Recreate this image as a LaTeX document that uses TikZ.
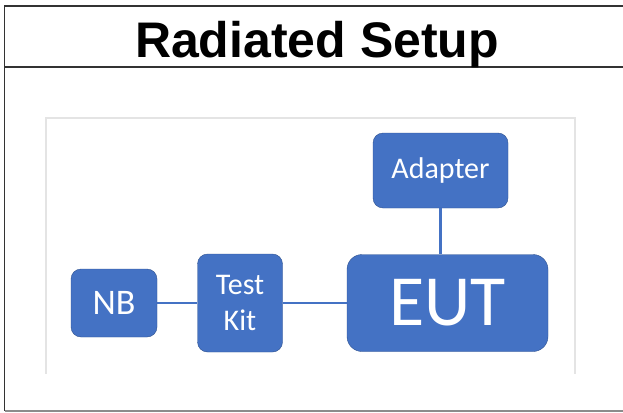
\documentclass[tikz,border=0pt]{standalone}
\usepackage{fontspec}
\setmainfont{Liberation Sans}
\newfontfamily\boxfont{Carlito}
\definecolor{boxblue}{HTML}{4472C4}
\definecolor{boxedge}{HTML}{2F528F}
\definecolor{framegray}{HTML}{E4E4E4}

\begin{document}
\begin{tikzpicture}[x=1pt,y=-1pt,
  unit/.style={draw=boxedge,fill=boxblue,rounded corners=10pt,text=white,
    inner sep=0pt,align=center,font=\boxfont\fontsize{30}{36}\selectfont},
  link/.style={boxblue,line width=2.5pt}]
\useasboundingbox (0,0) rectangle (623,412);
% outer frame and header
\draw[line width=1.5pt,black!80] (630,6) -- (4.5,6) -- (4.5,411);
\draw[line width=1.5pt,black!45] (4.5,411) -- (630,411);
\draw[line width=2pt,black!80] (4.5,67) -- (630,67);
\node[anchor=base,font=\bfseries\fontsize{50}{52}\selectfont] (title) at (317,57) {Radiated Setup};
% inner frame
\draw[line width=1.5pt,framegray] (46,374) -- (46,118) -- (575,118) -- (575,374);
% boxes
\node[unit,minimum width=86pt,minimum height=68pt,
  font=\boxfont\fontsize{36}{40}\selectfont] (nb) at (114,303) {NB};
\node[unit,minimum width=85pt,minimum height=98pt] (kit) at (240,303) {Test\\Kit};
\node[unit,minimum width=201pt,minimum height=97pt,rounded corners=15pt,
  font=\boxfont\fontsize{72}{76}\selectfont] (eut) at (447.5,303) {EUT};
\node[unit,minimum width=135pt,minimum height=75pt] (adapter) at (440.5,170.5) {Adapter};
% links
\draw[link] (nb) -- (kit);
\draw[link] (kit) -- (eut);
\draw[link] (adapter.south) -- (adapter.south |- eut.north);
\end{tikzpicture}
\end{document}
